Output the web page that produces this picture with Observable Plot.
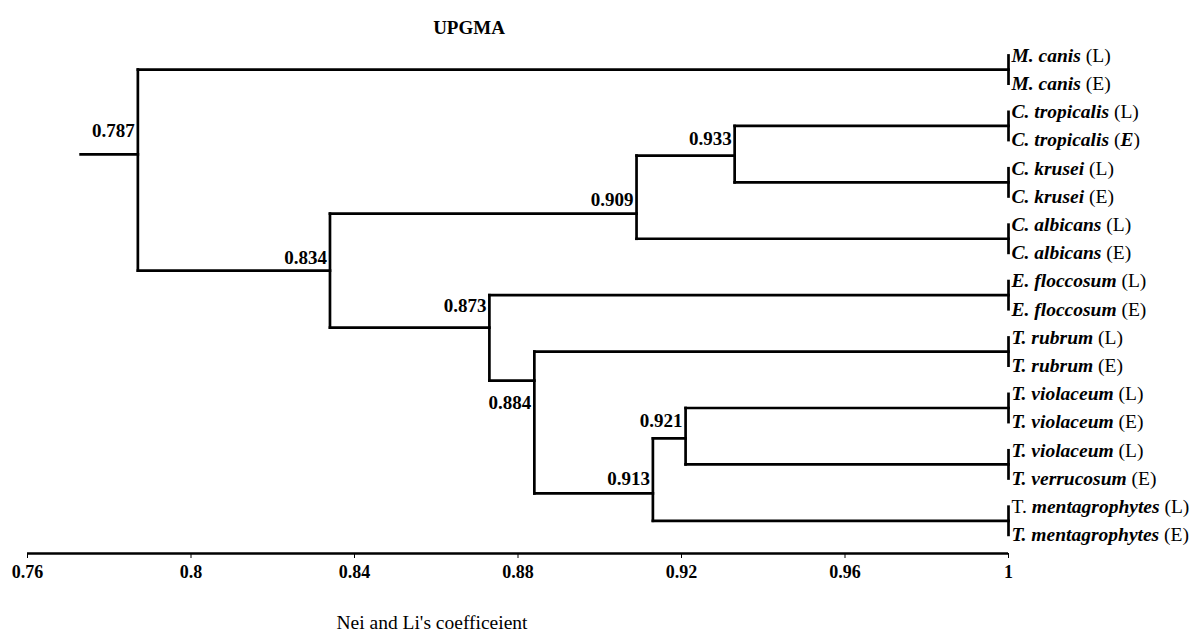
<!DOCTYPE html>
<html>
<head>
<meta charset="utf-8">
<script src="https://cdn.jsdelivr.net/npm/d3@7"></script>
<script src="https://cdn.jsdelivr.net/npm/@observablehq/plot@0.6"></script>
<style>
  html, body { margin: 0; padding: 0; background: #fff; }
  #chart svg { display: block; }
  #chart [aria-label^="x-axis tick label"] { font-weight: bold; font-size: 18px; }
</style>
</head>
<body>
<div id="chart"></div>
<script>
// ---------- data ----------
const title = "UPGMA";
const axisTitle = "Nei and Li's coefficeient";
const tickValues = [0.76, 0.8, 0.84, 0.88, 0.92, 0.96, 1];

// leaf labels, top to bottom (text between * * is italic)
const leafLabels = [
  "*M. canis* (L)", "*M. canis* (E)",
  "*C. tropicalis* (L)", "*C. tropicalis* (*E*)",
  "*C. krusei* (L)", "*C. krusei* (E)",
  "*C. albicans* (L)", "*C. albicans* (E)",
  "*E. floccosum* (L)", "*E. floccosum* (E)",
  "*T. rubrum* (L)", "*T. rubrum* (E)",
  "*T. violaceum* (L)", "*T. violaceum* (E)",
  "*T. violaceum* (L)", "*T. verrucosum* (E)",
  "T. *mentagrophytes* (L)", "*T. mentagrophytes* (E)"
];
// each pair of leaves joins at similarity 1
const pairSimilarity = 1;

// internal nodes: similarity value, vertical position (in leaf-row units), children
const nodeNames = ["A", "B", "C", "D", "E", "F", "G", "H"];
const nodeValues = [0.787, 0.834, 0.909, 0.933, 0.873, 0.884, 0.913, 0.921];
const nodeRows = [3.51, 7.63, 5.61, 3.55, 9.65, 11.53, 15.53, 13.58];
const nodeChildren = [
  ["P0", "B"], ["C", "E"], ["D", "P3"], ["P1", "P2"],
  ["P4", "F"], ["P5", "G"], ["H", "P8"], ["P6", "P7"]
];
const rootStart = 0.773;

// ---------- derived structures ----------
const leaves = leafLabels.map((label, i) => ({label, row: i}));
const nPairs = leafLabels.length / 2;
const pos = {};
for (let k = 0; k < nPairs; k++) pos["P" + k] = {x: pairSimilarity, row: 2 * k + 0.5, first: 2 * k, last: 2 * k + 1};
nodeNames.forEach((n, i) => pos[n] = {x: nodeValues[i], row: nodeRows[i]});

const segments = [];
for (let k = 0; k < nPairs; k++) {
  const p = pos["P" + k];
  segments.push({x1: p.x, x2: p.x, y1: p.first, y2: p.last});
}
nodeNames.forEach((n, i) => {
  const me = pos[n];
  const kids = nodeChildren[i].map(c => pos[c]);
  segments.push({x1: me.x, x2: me.x, y1: d3.min(kids, c => c.row), y2: d3.max(kids, c => c.row)});
  kids.forEach(c => segments.push({x1: me.x, x2: c.x, y1: c.row, y2: c.row}));
});
segments.push({x1: rootStart, x2: pos.A.x, y1: pos.A.row, y2: pos.A.row});

const nodes = nodeNames.map((n, i) => ({name: n, value: nodeValues[i], row: nodeRows[i]}));

// ---------- plot ----------
const yBottom = 17.66, yTop = -0.53;
const labelDy = {A: -24, B: -13, C: -14, D: -17, E: -22, F: 22, G: -15, H: -18};
const fmt = d => String(d);

const plot = Plot.plot({
  width: 1190,
  height: 643,
  marginLeft: 27,
  marginRight: 182,
  marginTop: 40,
  marginBottom: 90,
  style: {fontFamily: "'Liberation Serif', 'Times New Roman', serif", fontSize: "18px", color: "#000", background: "#fff"},
  x: {domain: [tickValues[0], tickValues[tickValues.length - 1]], ticks: tickValues, tickFormat: fmt, tickSize: 5, tickPadding: 7, label: null},
  y: {domain: [yBottom, yTop], axis: null},
  marks: [
    Plot.ruleY([yBottom], {x1: tickValues[0], x2: tickValues[tickValues.length - 1], stroke: "#000", strokeWidth: 2.5}),
    Plot.link(segments, {x1: "x1", x2: "x2", y1: "y1", y2: "y2", stroke: "#000", strokeWidth: 2.7, strokeLinecap: "square"}),
    ...nodes.map(n => Plot.text([n], {
      x: "value", y: "row", text: d => fmt(d.value),
      textAnchor: "end", dx: -3, dy: labelDy[n.name], fontWeight: "bold", fontSize: 19
    })),
    Plot.text(leaves, {x: () => pairSimilarity, y: "row", text: "label", textAnchor: "start", dx: 3, fontSize: 19.5}),
    Plot.text([title], {frameAnchor: "top", dx: -49, dy: -20, fontWeight: "bold", fontSize: 19}),
    Plot.text([axisTitle], {frameAnchor: "bottom", dx: -86, dy: 75, fontSize: 19.5})
  ]
});

// style leaf labels: *...* parts in bold italic
d3.select(plot).selectAll("text").each(function () {
  const raw = this.textContent;
  if (raw.indexOf("*") < 0) return;
  const parts = raw.split("*");
  const el = d3.select(this);
  el.text(null);
  parts.forEach((p, i) => {
    if (!p) return;
    const t = el.append("tspan").text(p);
    if (i % 2 === 1) t.attr("font-style", "italic").attr("font-weight", "bold");
  });
});

document.getElementById("chart").appendChild(plot);
</script>
</body>
</html>
